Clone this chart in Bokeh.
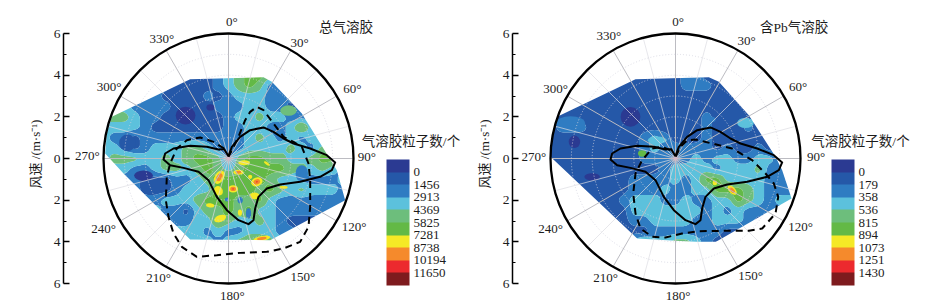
import numpy as np
from bokeh.embed import file_html
from bokeh.resources import INLINE
from bokeh.layouts import row
from bokeh.models import Range1d, LinearAxis, FixedTicker, ColorBar, LinearColorMapper, AllLabels
from bokeh.plotting import figure
from bokeh.core.properties import value

# ---------- shared data ----------
grid_x = [-6 + 0.5 * i for i in range(25)]
grid_y = [4 - 0.5 * i for i in range(17)]
band_colors = ["#2B3A92", "#2558A8", "#2F7CC2", "#5CC1DC", "#6DBE7C", "#63B946",
               "#F5E926", "#F58A2C", "#EC2A2E", "#7E1B1E"]
direction_labels = ["0°", "30°", "60°", "90°", "120°", "150°", "180°", "210°", "240°", "270°", "300°", "330°"]
speed_ticks = [-6, -4, -2, 0, 2, 4, 6]
speed_minor = [-5, -3, -1, 1, 3, 5]
spokes_major = list(range(0, 360, 30))
spokes_minor = list(range(15, 360, 30))
rings = [1, 2, 3, 4, 5]

# wind curve, east and north components, shared by both panels
wind_e = [0, .16, .56, 1.04, 1.68, 2.16, 2.64, 3.12, 3.92, 4.72, 5.12, 4.96, 4.4, 3.44, 2.48, 1.84, 1.44, 1.28,
          1.2, .96, .48, -.08, -.56, -.96, -1.44, -2.16, -2.8, -3.12, -3.04, -2.64, -1.84, -1.04, -.48, -.21, 0]
wind_n = [.11, .56, 1.04, 1.36, 1.49, 1.28, .96, .72, .48, .16, -.19, -.56, -.88, -1.12, -1.25, -1.44, -1.84, -2.4,
          -2.96, -3.15, -2.96, -2.48, -1.84, -1.04, -.64, -.45, -.32, -.05, .24, .48, .61, .56, .43, .45, .11]

# ---------- total aerosol panel ----------
total_title = "总气溶胶"
total_ticks = ["0", "1456", "2913", "4369", "5825", "7281", "8738", "10194", "11650"]
total_field = [
    [2,2,2,2,2,2,2,2,1,1,1,2,3,4,5,5,4,3,2,2,2,2,2,2,2],
    [2,2,2,2,2,2,2,1,1,1,1,2,3,4,5,4,2,2,2,2,2,2,2,2,2],
    [3,3,3,2,2,2,1,1,1,1,2,1,2,3,3,3,2,2,2,2,2,2,2,2,2],
    [3,3,3,2,2,2,2,1,1,1,1,2,2,2,3,3,2,2,1,2,2,2,2,2,2],
    [4,4,4,3,2,2,1,1,0,1,1,1,2,3,3,4,3,3,2,2,2,2,2,2,2],
    [3,3,3,3,2,1,1,1,1,1,1,1,2,2,3,3,2,2,3,5,3,2,2,2,2],
    [3,2,2,1,2,2,2,2,2,2,2,2,2,2,3,4,3,2,3,2,3,2,3,3,3],
    [3,3,2,1,2,3,3,3,4,4,3,2,2,2,3,3,3,3,4,3,2,4,4,3,3],
    [3,4,4,4,3,3,4,3,4,5,5,4,2,4,5,5,4,4,3,3,4,5,5,3,3],
    [3,3,3,2,2,3,4,4,3,4,5,4,3,4,5,5,5,5,4,4,3,4,3,2,2],
    [2,2,2,2,1,1,1,2,2,3,4,5,5,5,5,5,4,3,3,2,2,2,2,3,3],
    [2,2,2,2,1,1,1,2,3,3,3,5,5,5,5,4,5,4,3,4,3,3,3,2,2],
    [2,2,2,2,2,2,3,3,3,4,5,5,5,4,4,5,3,2,2,2,2,2,2,2,2],
    [3,3,3,3,3,3,2,2,1,3,4,4,5,4,5,3,3,2,2,2,2,2,2,2,2],
    [3,3,3,3,3,3,2,2,2,3,3,5,4,3,3,4,3,2,1,1,1,1,1,1,1],
    [3,3,3,3,3,3,3,3,3,3,2,3,2,2,3,3,3,2,2,1,1,1,1,1,1],
    [3,3,3,3,3,3,3,3,3,3,3,2,3,4,5,5,4,3,1,1,1,1,1,1,1],
]
total_hull_e = [-1.84, 1.68, 2.08, 3.52, 4.8, 5.2, 5.6, 2, -1.84, -5.04, -5.92, -5.84, -5.6]
total_hull_n = [3.81, 3.9, 3.68, 2.16, .08, -.56, -2, -3.92, -3.89, -.72, .24, 1.2, 2]
total_spot_e = [-.44, .48, .75, 1.36, .22, -.48, -.88, -.4, 1.25, 1.6, .55, 1.04, 1.84, 2.64,
                .56, -.08, .96, 3.52, 2.88, -2.06, -.86, -4.85, -4.08]
total_spot_n = [-.9, -.66, -.2, -1.12, -1.46, -1.55, -2.25, -2.88, -1.79, -3.84, -2.6, -.88, -.24, -1.39,
                -2, -1.97, -2.64, -.72, 2.3, 2.06, 2.45, .75, -.82]
total_spot_w = [.44, .48, .56, .56, .48, .4, .4, .6, .48, .8, .2, .2, .32, .4,
                .25, .2, .25, .6, .8, .95, .4, .8, .9]
total_spot_h = [.7, .24, .24, .42, .35, .48, .2, .32, .32, .24, .3, .2, .12, .13,
                .3, .2, .5, .8, .5, .85, .3, .8, .5]
total_spot_a = [-30, 0, 0, 20, 0, 30, -10, 20, 0, 10, 0, 0, -35, 0,
                0, 0, 0, 0, 0, 0, 0, 0, 0]
total_spot_band = [7, 7, 6, 8, 8, 6, 6, 6, 6, 7, 6, 6, 6, 6,
                   2, 2, 2, 2, 4, 0, 0, 1, 0]
total_dash_e = [-.21, -.72, -1.36, -2, -2.48, -2.8, -2.96, -3.01, -2.88, -2.64, -2.24, -1.52, -.56, .56, 1.84, 2.64,
                3.44, 3.84, 3.92, 3.92, 3.84, 3.52, 3.12, 2.64, 2.16, 1.68, 1.36, 1.04, .8, .48, .16, 0]
total_dash_n = [.48, .8, 1.01, .88, .48, -.24, -.88, -2, -2.8, -3.6, -4.24, -4.72, -4.64, -4.53, -4.48, -4.32,
                -4, -3.28, -2.32, -1.04, -.24, .56, .8, 1.04, 1.68, 2.32, 2.48, 2.24, 1.84, 1.04, .4, .08]
total_label_e = [.16, 3.41, 5.95, 6.64, 6.03, 3.57, .19, -3.36, -6, -6.77, -5.73, -3.2]
total_label_n = [6.56, 5.55, 3.36, .11, -3.26, -5.68, -6.56, -5.73, -3.36, .16, 3.47, 5.76]

# ---------- Pb aerosol panel ----------
pb_title = "含Pb气溶胶"
pb_ticks = ["0", "179", "358", "536", "815", "894", "1073", "1251", "1430"]
pb_field = [
    [1,1,1,1,1,1,1,1,1,1,1,1,1,2,2,1,1,1,1,1,1,1,1,1,1],
    [1,1,1,1,1,1,1,1,1,1,1,1,1,2,2,2,1,1,1,1,1,1,1,1,1],
    [1,1,1,1,1,1,1,1,1,1,1,1,1,1,1,1,1,1,1,1,1,1,1,1,1],
    [1,1,1,1,1,1,1,1,1,1,1,1,1,1,1,1,1,1,1,1,1,1,1,1,1],
    [1,1,1,1,1,1,1,1,1,1,1,1,1,1,1,2,1,1,1,1,1,1,1,1,1],
    [1,2,2,2,1,1,1,1,1,1,1,1,1,1,1,2,1,1,1,2,1,1,1,1,1],
    [1,1,1,1,1,1,1,1,1,2,3,2,1,1,1,2,1,1,1,1,1,1,1,1,1],
    [1,1,1,1,1,1,1,1,1,2,3,2,2,2,2,2,1,2,1,1,2,1,1,1,1],
    [1,1,1,1,1,1,1,1,1,2,2,2,2,2,3,2,3,3,2,2,3,3,2,1,1],
    [1,1,1,1,1,1,1,1,1,1,1,2,3,3,3,3,2,3,3,3,4,2,2,1,1],
    [1,1,1,1,1,1,1,1,2,2,2,2,3,2,3,5,5,3,3,3,3,2,2,1,1],
    [1,1,1,1,1,1,1,1,2,2,2,3,2,2,3,3,5,5,5,4,3,2,2,2,2],
    [1,1,1,1,1,1,1,2,3,3,3,2,2,3,2,2,3,3,5,4,3,2,3,3,3],
    [1,1,1,1,1,1,1,1,3,3,3,3,3,3,3,2,3,2,3,2,2,2,2,2,2],
    [1,1,1,1,1,1,1,1,2,2,3,3,3,3,2,2,3,3,3,2,1,1,1,1,1],
    [1,1,1,1,1,1,1,1,1,1,2,2,2,2,2,2,2,1,1,1,1,1,1,1,1],
    [2,2,2,2,2,2,2,2,3,4,3,3,4,4,3,2,1,1,1,1,1,1,1,1,1],
]
pb_hull_e = [-1.92, 1.6, 2.08, 3.52, 4.8, 5.12, 5.57, 1.84, -1.84, -6, -5.89, -5.68]
pb_hull_n = [3.81, 3.9, 3.68, 2.08, .08, -.56, -1.92, -4.05, -3.84, .08, 1.2, 2]
pb_spot_e = [-2.16, -4.85, -4, 3.36, -5.04, -.88, -1.6, 1.89, 2.72, 1.68]
pb_spot_n = [2, .8, -.88, 1.71, 1.68, .88, .24, -1.17, -1.52, 1.87]
pb_spot_w = [.95, .55, .75, .8, 1.4, .9, .4, .22, .55, .5]
pb_spot_h = [.95, .6, .35, .5, .7, .35, .3, .22, .3, .3]
pb_spot_a = [0, 0, 0, 0, 0, 0, 0, 0, -45, 0]
pb_spot_band = [0, 0, 0, 3, 2, 3, 5, 6, 7, 2]
pb_dash_e = [-.24, -.64, -1.12, -1.6, -1.92, -2.03, -1.92, -1.68, -1.12, -.48, .32, 1.12, 2.4, 3.52, 4.16, 4.8,
             4.93, 4.72, 4.32, 3.68, 2.72, 1.76, .96, .56, .24, 0]
pb_dash_n = [.4, .56, .48, -.08, -.72, -1.68, -2.64, -3.36, -3.76, -3.79, -3.6, -3.49, -3.47, -3.47, -3.36, -2.64,
             -1.84, -1.2, -.72, -.08, .48, .72, .91, .88, .56, .08]
pb_label_e = [.13, 3.41, 5.89, 6.75, 6, 3.6, .13, -3.36, -6, -6.8, -5.76, -3.2]
pb_label_n = [6.56, 5.65, 3.47, .11, -3.28, -5.6, -6.56, -5.73, -3.36, .11, 3.36, 5.92]

FONT = "Liberation Serif, Noto Sans CJK SC"
INK = "#1c1c1c"
PX = 125 / 6  # pixels per m/s


def smooth_field(field):
    """Resample the read grid finer and soften it, only so that the bands are drawn with round edges."""
    z = np.array(field, dtype=float)
    gy = np.array(grid_y)[::-1]
    fx = np.linspace(grid_x[0], grid_x[-1], 97)
    fy = np.linspace(gy[0], gy[-1], 65)
    zz = np.array([np.interp(fx, grid_x, r) for r in z[::-1]])
    zz = np.array([np.interp(fy, gy, c) for c in zz.T]).T
    p_ = np.pad(zz, 1, mode="edge")
    zz = (p_[1:-1, :-2] + 2 * p_[1:-1, 1:-1] + p_[1:-1, 2:]) / 4
    p_ = np.pad(zz, 1, mode="edge")
    zz = (p_[:-2, 1:-1] + 2 * p_[1:-1, 1:-1] + p_[2:, 1:-1]) / 4
    return fx, fy, zz


def panel(width, border_left, centre_px, page_left, field, hull_e, hull_n, spots, dash_e, dash_n,
          label_e, label_n, title, title_e, legend_e, ticks, bar_left):
    frame_w = width - border_left
    x0 = (page_left + border_left - centre_px) / PX
    x1 = x0 + frame_w / PX
    p = figure(width=width, height=307, output_backend="svg", toolbar_location=None,
               x_range=Range1d(x0, x1), y_range=Range1d(-149 / PX, 158 / PX),
               x_axis_location=None, y_axis_location=None,
               min_border_left=border_left, min_border_right=0, min_border_top=0, min_border_bottom=0,
               outline_line_color=None, background_fill_color="white")
    p.xgrid.visible = False
    p.ygrid.visible = False

    # filled bands
    fx, fy, zz = smooth_field(field)
    levels = [k - 0.5 for k in range(11)]
    p.contour(fx, fy, zz, levels=levels, fill_color=band_colors, line_color=None)

    # small peaks and holes read one by one
    se, sn, sw, sh, sa, sb = spots
    for e, n, w, h, a, b in zip(se, sn, sw, sh, sa, sb):
        steps = list(range(6, b + 1)) if b >= 6 else [b]
        for i, lvl in enumerate(steps):
            f = 1 - i * 0.42
            p.ellipse(x=[e], y=[n], width=[w * f], height=[h * f], angle=[np.deg2rad(a)],
                      fill_color=band_colors[lvl], line_color=None)

    # white outside the sampled area
    ox = [-6.3, 6.3, 6.3, -6.3]
    oy = [-4.4, -4.4, 4.4, 4.4]
    p.multi_polygons(xs=[[[ox, list(hull_e)]]], ys=[[[oy, list(hull_n)]]],
                     fill_color="white", line_color=None)

    # polar grid
    for angles, colour, lw in ((spokes_minor, "#dddde3", 0.7), (spokes_major, "#bcbcc2", 1.0)):
        t = np.deg2rad(angles)
        p.multi_line(xs=[[0, 6 * np.sin(a)] for a in t], ys=[[0, 6 * np.cos(a)] for a in t],
                     line_color=colour, line_width=lw)
    p.circle(x=[0] * len(rings), y=[0] * len(rings), radius=rings, fill_color=None,
             line_color="#d4d4e0", line_width=0.8, line_dash="1 2")
    p.scatter(x=[0], y=[0], size=6, marker="asterisk", line_color="#d9b8c8", line_width=0.8)

    # curves
    p.line(dash_e, dash_n, line_color="black", line_width=2, line_dash="7 5")
    p.line(wind_e, wind_n, line_color="black", line_width=2, line_join="round")
    p.circle(x=[0], y=[0], radius=[6], fill_color=None, line_color="black", line_width=2.3)

    # texts
    p.text(x=label_e, y=label_n, text=direction_labels, text_font=value(FONT), text_font_size="13px",
           text_color=INK, text_align="center", text_baseline="middle")
    p.text(x=[title_e], y=[6.29], text=[title], text_font=value(FONT), text_font_size="13.5px",
           text_color=INK, text_align="center", text_baseline="middle")
    p.text(x=[legend_e], y=[.82], text=["气溶胶粒子数/个"], text_font=value(FONT), text_font_size="13.5px",
           text_color=INK, text_align="center", text_baseline="middle")

    # speed axis
    axis = LinearAxis(ticker=FixedTicker(ticks=speed_ticks, minor_ticks=speed_minor), bounds=(-6, 6),
                      axis_label="风速 /(m·s⁻¹)", axis_label_text_font=FONT, axis_label_text_font_size="13px",
                      axis_label_text_font_style="normal", axis_label_text_color=INK, axis_label_standoff=8,
                      major_label_text_font=FONT, major_label_text_font_size="13.5px",
                      major_label_text_color=INK, major_label_standoff=3,
                      major_label_overrides={k: str(abs(k)) for k in speed_ticks},
                      major_tick_in=6, major_tick_out=0, minor_tick_in=3, minor_tick_out=0,
                      axis_line_width=1.5, major_tick_line_width=1.3, minor_tick_line_width=1,
                      axis_line_color="black", major_tick_line_color="black", minor_tick_line_color="black")
    p.add_layout(axis, "left")

    # colour bar: first band on top
    mapper = LinearColorMapper(palette=band_colors[::-1], low=0, high=10)
    bar = ColorBar(color_mapper=mapper, width=23, height=126, padding=0, margin=0,
                   location=(bar_left - page_left - border_left, 22),
                   ticker=FixedTicker(ticks=list(range(1, 10))),
                   major_label_overrides={9 - i: s for i, s in enumerate(ticks)},
                   major_label_policy=AllLabels(),
                   major_label_text_font=FONT, major_label_text_font_size="13px",
                   major_label_text_color=INK, major_label_text_align="left", label_standoff=4,
                   major_tick_line_color=None, minor_tick_line_color=None, bar_line_color=None,
                   border_line_color=None, background_fill_alpha=0)
    p.add_layout(bar, "center")
    return p


p1 = panel(465, 63, 228, 0, total_field, total_hull_e, total_hull_n,
           (total_spot_e, total_spot_n, total_spot_w, total_spot_h, total_spot_a, total_spot_band),
           total_dash_e, total_dash_n, total_label_e, total_label_n, total_title, 5.64, 8.76, total_ticks, 386)
p2 = panel(466, 47, 675, 465, pb_field, pb_hull_e, pb_hull_n,
           (pb_spot_e, pb_spot_n, pb_spot_w, pb_spot_h, pb_spot_a, pb_spot_band),
           pb_dash_e, pb_dash_n, pb_label_e, pb_label_n, pb_title, 5.69, 8.88, pb_ticks, 831)

open("out.html", "w").write(file_html(row(p1, p2), INLINE))
